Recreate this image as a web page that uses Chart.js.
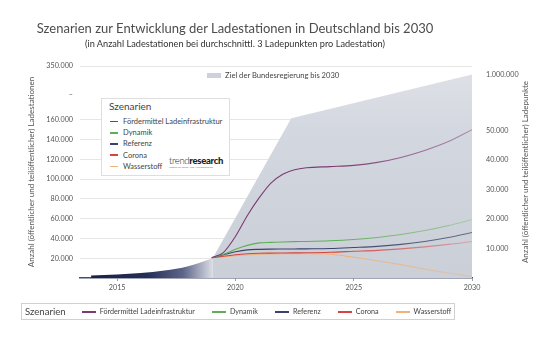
<!DOCTYPE html>
<html lang="de">
<head>
<meta charset="utf-8">
<title>Szenarien Ladestationen</title>
<script src="https://cdn.jsdelivr.net/npm/chart.js@4.4.1/dist/chart.umd.min.js"></script>
<style>
  body { margin: 0; background: #fff; font-family: Lato, "Open Sans", sans-serif; }
  #wrap { position: relative; width: 542px; height: 340px; overflow: hidden; }
  #wrap canvas { position: absolute; left: 0; top: 0; }
  .title { position: absolute; left: 0; width: 470px; text-align: center; white-space: nowrap; }
  #t1 { top: 21px; font-size: 13px; line-height: 15px; color: #4d4d4d; }
  #t2 { top: 38px; font-size: 9.2px; line-height: 11px; color: #333; }
  .ytitle { position: absolute; width: 260px; height: 10px; line-height: 10px; font-size: 8px; color: #555; text-align: center; white-space: nowrap; transform: rotate(-90deg); }
  #goal { position: absolute; left: 207px; top: 70px; font-size: 7.6px; color: #444; display: flex; align-items: center; white-space: nowrap; }
  #goal i { display: inline-block; width: 14px; height: 5px; background: #cdd1db; margin-right: 4px; }
  #inner { position: absolute; left: 101px; top: 98px; width: 127px; height: 76px; background: #fff; border: 1px solid #dedede; }
  #inner .head { position: absolute; left: 7px; top: 1px; font-size: 10px; color: #444; }
  #inner .items { position: absolute; left: 8px; top: 17px; }
  #inner .it { display: flex; align-items: center; height: 11.2px; font-size: 7.5px; color: #444; white-space: nowrap; }
  #inner .it i { display: inline-block; width: 8px; height: 1.6px; margin-right: 5px; }
  #logo { position: absolute; left: 67px; top: 57px; font-size: 9.5px; color: #222; letter-spacing: -0.3px; line-height: 10px; }
  #logo .a { font-weight: 300; }
  #logo .b { font-weight: 900; }
  #logo small { display: block; font-size: 2.6px; line-height: 3px; color: #777; letter-spacing: 0; }
  #bottom { position: absolute; left: 21px; top: 303px; width: 432px; height: 15px; border: 1px solid #d0d0d0; display: flex; align-items: center; white-space: nowrap; }
  #bottom .head { font-size: 9.6px; color: #444; margin-left: 3px; margin-right: 16px; }
  #bottom .it { display: flex; align-items: center; font-size: 7.2px; color: #444; margin-right: 17px; }
  #bottom .it i { display: inline-block; width: 14px; height: 2px; margin-right: 4px; }
</style>
</head>
<body>
<div id="wrap">
  <canvas id="chart" width="542" height="340"></canvas>
  <div class="title" id="t1">Szenarien zur Entwicklung der Ladestationen in Deutschland bis 2030</div>
  <div class="title" id="t2">(in Anzahl Ladestationen bei durchschnittl. 3 Ladepunkten pro Ladestation)</div>
  <div class="ytitle" style="left:-99px; top:167px;">Anzahl (öffentlicher und teilöffentlicher) Ladestationen</div>
  <div class="ytitle" style="left:395px; top:167px;">Anzahl (öffentlicher und teilöffentlicher) Ladepunkte</div>
  <div id="goal"><i></i><span id="goalText"></span></div>
  <div id="inner">
    <div class="head">Szenarien</div>
    <div class="items" id="innerItems"></div>
    <div id="logo"><span class="a">trend</span><span class="b">research</span><small>Institut für Trend- und Marktforschung</small></div>
  </div>
  <div id="bottom"><span class="head">Szenarien</span></div>
</div>
<script>
// years shared by all scenario lines
const years = [2019, 2019.5, 2020, 2020.5, 2021, 2021.5, 2022, 2022.5, 2023, 2024, 2025, 2026, 2027, 2028, 2029, 2030];

const foerdermittel = [20500, 26000, 42000, 63000, 81000, 96000, 105000, 109500, 111500, 112700, 114000, 117000, 122000, 129000, 138000, 150000];
const dynamik       = [20500, 24000, 29000, 33000, 35500, 36000, 36500, 36800, 37000, 37700, 39000, 41000, 44000, 48000, 53000, 59000];
const referenz      = [20500, 23500, 26500, 28500, 29000, 29200, 29300, 29400, 29500, 29800, 30800, 32000, 34000, 37000, 41000, 46000];
const corona        = [20500, 22000, 23500, 24500, 25000, 25200, 25300, 25400, 25500, 26000, 27000, 28000, 29500, 31500, 34000, 37000];
const wasserstoff   = [20500, 21500, 22500, 23300, 24000, 24300, 24500, 24500, 24500, 24000, 21000, 17500, 13500, 9000, 5000, 1500];

const seriesNames = ['Fördermittel Ladeinfrastruktur', 'Dynamik', 'Referenz', 'Corona', 'Wasserstoff'];
const seriesColors = ['#7d3a73', '#5fae55', '#3a4468', '#d8423f', '#f0b27a'];
const fadeColors = ['rgba(125,58,115,0.45)', 'rgba(95,174,85,0.3)', 'rgba(58,68,104,0.7)', 'rgba(216,66,63,0.3)', 'rgba(240,178,122,0.35)'];

// historic stock (dark area) and government target (grey area)
const histYears = [2013.9, 2015, 2016, 2017, 2018, 2019.05];
const histValues = [2500, 3500, 5000, 7500, 12000, 20000];
const goalYears = [2019.05, 2022.36, 2030];
const goalValues = [20500, 166000, 320000];
const goalLabel = 'Ziel der Bundesregierung bis 2030';

const yearTicks = [2015, 2020, 2025, 2030];
const leftTicks = [20000, 40000, 60000, 80000, 100000, 120000, 140000, 160000, 250000, 350000];
const leftLabels = ['20.000', '40.000', '60.000', '80.000', '100.000', '120.000', '140.000', '160.000', '–', '350.000'];
const rightTicks = [10000, 20000, 30000, 40000, 50000, 1000000];
const rightLabels = ['10.000', '20.000', '30.000', '40.000', '50.000', '1.000.000'];

// broken axes: above the break the scale is compressed
function toLeft(v) { return v <= 160000 ? v : 160000 + (v - 160000) * (54500 / 190000); }
function toRight(v) { return v <= 50000 ? v : 50000 + (v - 50000) * 0.02; }

function pts(xs, ys) { return xs.map((x, i) => ({ x: x, y: toLeft(ys[i]) })); }

const lineData = [foerdermittel, dynamik, referenz, corona, wasserstoff];

function fadeStroke(i) {
    return function(ctx) {
        const chart = ctx.chart;
        if (!chart.chartArea) return seriesColors[i];
        const xs = chart.scales.x;
        const g = chart.ctx.createLinearGradient(xs.getPixelForValue(2024.3), 0, xs.getPixelForValue(2030), 0);
        g.addColorStop(0, seriesColors[i]);
        g.addColorStop(1, fadeColors[i]);
        return g;
    };
}

const datasets = lineData.map((vals, i) => ({
    label: seriesNames[i],
    data: pts(years, vals),
    borderColor: fadeStroke(i),
    borderWidth: 1.1,
    pointRadius: 0,
    cubicInterpolationMode: 'monotone',
    fill: false,
    order: i
}));

datasets.push({
    label: 'Bestand',
    data: pts(histYears, histValues),
    borderWidth: 0,
    pointRadius: 0,
    cubicInterpolationMode: 'monotone',
    fill: 'origin',
    order: 9,
    backgroundColor: function(ctx) {
        const chart = ctx.chart;
        if (!chart.chartArea) return '#2a3257';
        const xs = chart.scales.x;
        const g = chart.ctx.createLinearGradient(xs.getPixelForValue(2014), 0, xs.getPixelForValue(2019.05), 0);
        g.addColorStop(0, '#1a2146');
        g.addColorStop(0.45, '#252e57');
        g.addColorStop(0.75, '#5d6589');
        g.addColorStop(1, '#dcdfe6');
        return g;
    }
});

datasets.push({
    label: goalLabel,
    data: pts(goalYears, goalValues),
    borderWidth: 0,
    pointRadius: 0,
    tension: 0,
    fill: 'origin',
    order: 10,
    backgroundColor: function(ctx) {
        const area = ctx.chart.chartArea;
        if (!area) return '#cdd1db';
        const g = ctx.chart.ctx.createLinearGradient(0, area.top, 0, area.bottom);
        g.addColorStop(0, '#dfe1e7');
        g.addColorStop(0.3, '#d3d7df');
        g.addColorStop(1, '#cacfd8');
        return g;
    }
});

// html legends built from the series arrays
document.getElementById('goalText').textContent = goalLabel;
const inner = document.getElementById('innerItems');
const bottom = document.getElementById('bottom');
seriesNames.forEach((name, i) => {
    const a = document.createElement('div');
    a.className = 'it';
    a.innerHTML = '<i style="background:' + seriesColors[i] + '"></i>' + name;
    inner.appendChild(a);
    const b = document.createElement('span');
    b.className = 'it';
    b.innerHTML = '<i style="background:' + seriesColors[i] + '"></i>' + name;
    bottom.appendChild(b);
});

const tickFont = { family: 'Lato', size: 7.2 };

new Chart(document.getElementById('chart').getContext('2d'), {
    type: 'line',
    data: { datasets: datasets },
    options: {
        responsive: false,
        animation: false,
        events: [],
        layout: { padding: { top: 66, bottom: 42, left: 0, right: 0 } },
        plugins: { legend: { display: false }, tooltip: { enabled: false }, title: { display: false } },
        scales: {
            x: {
                type: 'linear',
                min: 2013.43,
                max: 2030,
                afterFit: s => { s.height = 20; },
                afterBuildTicks: s => { s.ticks = yearTicks.map(v => ({ value: v })); },
                grid: { drawOnChartArea: false, drawTicks: true, tickLength: 3, color: '#9a9eae' },
                border: { color: '#454c6e', width: 1.6 },
                ticks: { font: tickFont, color: '#555', padding: 2, autoSkip: false, maxRotation: 0, callback: v => String(v) }
            },
            y: {
                position: 'left',
                min: 0,
                max: 214500,
                afterFit: s => { s.width = 80; },
                afterBuildTicks: s => { s.ticks = leftTicks.map(v => ({ value: toLeft(v) })); },
                grid: {
                    drawTicks: false,
                    color: ctx => (ctx.tick && leftLabels[ctx.index] === '–') ? 'rgba(0,0,0,0)' : '#e6e6e6'
                },
                border: { display: false },
                ticks: { font: tickFont, color: '#555', padding: 7, autoSkip: false, callback: (v, i) => leftLabels[i] }
            },
            y2: {
                position: 'right',
                min: 0,
                max: 71900,
                afterFit: s => { s.width = 70; },
                afterBuildTicks: s => { s.ticks = rightTicks.map(v => ({ value: toRight(v) })); },
                grid: { display: false },
                border: { display: false },
                ticks: { font: tickFont, color: '#555', padding: 6, autoSkip: false, callback: (v, i) => rightLabels[i] }
            }
        }
    }
});
</script>
</body>
</html>
